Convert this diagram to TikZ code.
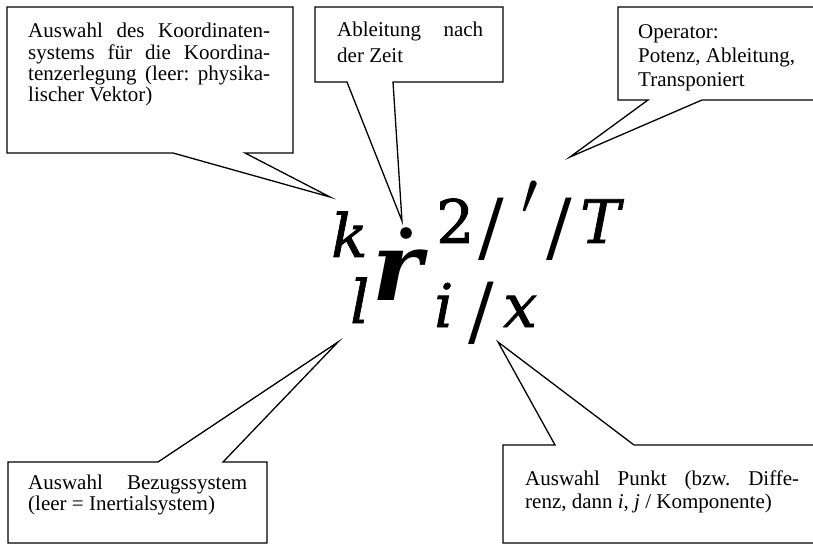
\documentclass[tikz,border=0pt]{standalone}
\usepackage{fontspec}
\setmainfont{Liberation Serif}
\newfontfamily\mathf[FakeBold=1.2]{DejaVu Serif}
\newfontfamily\mathfb{DejaVu Serif}
\frenchspacing
\tikzset{
  callout/.style={draw=black, line width=1.3pt, line join=miter, fill=white},
  boxtext/.style={anchor=base west, inner sep=0pt},
  scriptglyph/.style={anchor=base west, inner sep=0pt, font=\mathf\fontsize{60}{60}\selectfont\itshape},
  uprightglyph/.style={anchor=base west, inner sep=0pt, font=\mathf\fontsize{60}{60}\selectfont},
  slashglyph/.style={anchor=base west, inner sep=0pt, font=\mathfb\fontsize{76}{76}\selectfont},
  mainglyph/.style={anchor=base west, inner sep=0pt, font=\mathfb\fontsize{95}{95}\selectfont\bfseries\itshape}
}
\begin{document}
\begin{tikzpicture}[x=1pt,y=-1pt]
\clip (0,0) rectangle (813,545);
\fill[white] (0,0) rectangle (813,545);
% tips of the callouts
\coordinate (tipA) at (330,197);
\coordinate (tipB) at (402,221);
\coordinate (tipC) at (570,157);
\coordinate (tipD) at (338,342);
\coordinate (tipE) at (498,342);
% callout outlines
\draw[callout] (7,7) -- (293,7) -- (293,153) -- (245,153) -- (tipA) -- (173,153) -- (7,153) -- cycle;
\draw[callout] (315,7) -- (503,7) -- (503,82) -- (393,82) -- (tipB) -- (347,82) -- (315,82) -- cycle;
\draw[callout] (618,7) -- (830,7) -- (830,100) -- (702,100) -- (tipC) -- (648,100) -- (618,100) -- cycle;
\draw[callout] (8,462) -- (158,462) -- (tipD) -- (223,462) -- (267,462) -- (267,543) -- (8,543) -- cycle;
\draw[callout] (503,445) -- (555,445) -- (tipE) -- (634,445) -- (830,445) -- (830,543) -- (503,543) -- cycle;
% texts
\node[boxtext] (tA) at (28,38) {\parbox[t]{242pt}{\frenchspacing\fontsize{21}{21.2}\selectfont Auswahl des Koordinaten-\linebreak systems für die Koordina-\linebreak tenzerlegung (leer: physika-\linebreak lischer Vektor)}};
\node[boxtext] (tB) at (337,37) {\parbox[t]{146pt}{\fontsize{21}{25.5}\selectfont Ableitung nach\linebreak der Zeit}};
\node[boxtext] (tC) at (638,39) {\parbox[t]{172pt}{\raggedright\fontsize{21}{24}\selectfont Operator:\\ Potenz, Ableitung,\\ Transponiert}};
\node[boxtext] (tD) at (28,489) {\parbox[t]{219pt}{\fontsize{21}{21}\selectfont Auswahl Bezugssystem\linebreak (leer = Inertialsystem)}};
\node[boxtext] (tE) at (525,485) {\parbox[t]{274pt}{\frenchspacing\fontsize{21}{23}\selectfont Auswahl Punkt (bzw. Diffe-\linebreak renz, dann \textit{i}, \textit{j} / Komponente)}};
% formula
\node[scriptglyph] (k) at (331,257) {k};
\node[scriptglyph] (l) at (350,323) {l};
\node[mainglyph] (r) at (372,300) {r};
\fill (406,233) circle (5.8);
\node[uprightglyph] (two) at (436,243) {2};
\node[slashglyph] (s1) at (478,253) {/};
\node[anchor=base west, inner sep=0pt, font=\normalsize] (prime) at (521,215) {\scalebox{6}{$\prime$}};
\node[slashglyph] (s2) at (546,253) {/};
\node[scriptglyph] (T) at (580,243) {T};
\node[scriptglyph] (i) at (434,327) {i};
\node[slashglyph] (s3) at (468,337) {/};
\node[scriptglyph] (x) at (503,327) {x};
\end{tikzpicture}
\end{document}
